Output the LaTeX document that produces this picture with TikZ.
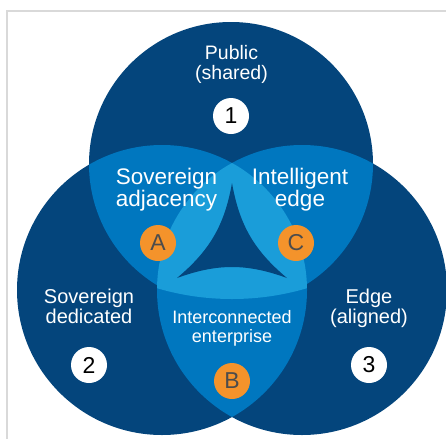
\documentclass[tikz,border=0pt]{standalone}
\usepackage{fontspec}
\setmainfont{Liberation Sans}
\definecolor{darkblue}{HTML}{04457C}
\definecolor{midblue}{HTML}{0077BF}
\definecolor{lightblue}{HTML}{1A9DD9}
\definecolor{badge}{HTML}{F4932B}
\definecolor{framegray}{HTML}{D9D9D9}

\begin{document}
\begin{tikzpicture}[
        x=1pt, y=-1pt,
        areatext/.style={text=white, align=center, inner sep=0pt, anchor=base},
        numbadge/.style={circle, fill=white, minimum size=36pt, inner sep=0pt, text=black, font=\fontsize{23}{23}\selectfont},
        letterbadge/.style={circle, fill=badge, minimum size=36pt, inner sep=0pt, text=black!70, font=\fontsize{23}{23}\selectfont}
    ]
    \useasboundingbox (0,0) rectangle (446,439);
    \draw[framegray, line width=1.5pt] (446,11) -- (7,11) -- (7,439);
    \coordinate (top) at (231,164);
    \coordinate (left) at (162,290);
    \coordinate (right) at (302,290);
    \fill[darkblue] (top) circle (142pt) (left) circle (145pt) (right) circle (145pt);
    \begin{scope}
        \clip (top) circle (142pt);
        \fill[midblue] (left) circle (145pt) (right) circle (145pt);
    \end{scope}
    \begin{scope}
        \clip (left) circle (145pt);
        \fill[midblue] (right) circle (145pt);
    \end{scope}
    \begin{scope}
        \clip (left) circle (145pt);
        \clip (right) circle (145pt);
        \fill[lightblue] (232,35) circle (264pt);
    \end{scope}
    \fill[darkblue] (232,183) to[bend left=20] (177,278) to[bend left=20] (287,278) to[bend left=20] cycle;
    \node[areatext, font=\fontsize{19.5}{20}\selectfont] (public) at (231.5,79) {Public\\(shared)};
    \node[areatext, font=\fontsize{22.5}{21.5}\selectfont] (adjacency) at (166.5,206) {Sovereign\\adjacency};
    \node[areatext, font=\fontsize{22.5}{21.5}\selectfont] (intelligent) at (300,206) {Intelligent\\edge};
    \node[areatext, font=\fontsize{20}{20}\selectfont] (dedicated) at (89,323) {Sovereign\\dedicated};
    \node[areatext, font=\fontsize{20}{20}\selectfont] (aligned) at (369,323) {Edge\\(aligned)};
    \node[areatext, font=\fontsize{18}{18.5}\selectfont] (enterprise) at (232,342) {Interconnected\\enterprise};
    \node[numbadge] (one) at (231,116) {1};
    \node[numbadge] (two) at (89,365) {2};
    \node[numbadge] (three) at (369,365) {3};
    \node[letterbadge] (a) at (158,243) {A};
    \node[letterbadge] (b) at (232,381) {B};
    \node[letterbadge] (c) at (296,243) {C};
\end{tikzpicture}
\end{document}
